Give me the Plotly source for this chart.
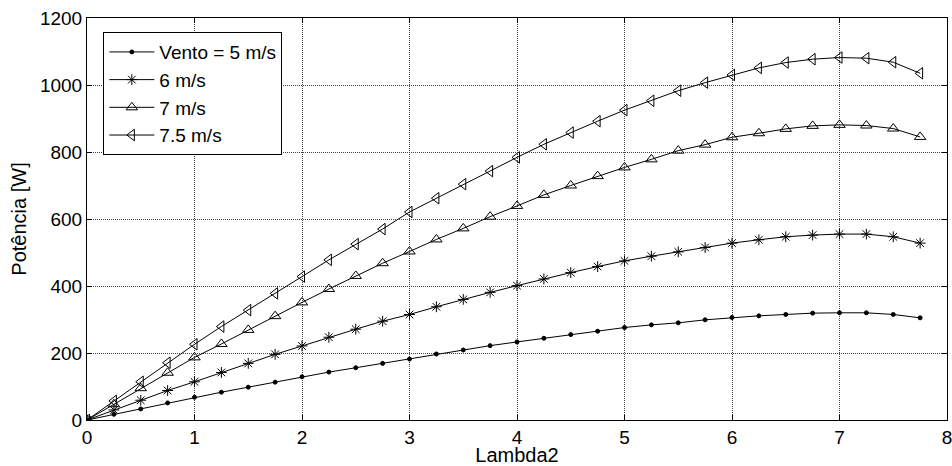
import plotly.graph_objects as go

lambda2 = [0, 0.25, 0.5, 0.75, 1, 1.25, 1.5, 1.75, 2, 2.25, 2.5, 2.75, 3, 3.25, 3.5, 3.75,
           4, 4.25, 4.5, 4.75, 5, 5.25, 5.5, 5.75, 6, 6.25, 6.5, 6.75, 7, 7.25, 7.5, 7.75]

p_5 = [0, 17, 33, 51, 68, 83, 98, 113, 129, 143, 156, 169, 182, 197, 209, 222,
       233, 244, 255, 265, 276, 284, 290, 299, 306, 311, 315, 319, 320, 320, 315, 305]
p_6 = [0, 30, 59, 88, 114, 142, 169, 196, 221, 247, 271, 295, 315, 338, 360, 381,
       401, 421, 440, 458, 475, 489, 502, 515, 528, 538, 547, 552, 555, 555, 547, 528]
p_7 = [0, 47, 95, 141, 187, 227, 269, 310, 351, 391, 430, 468, 503, 539, 572, 607,
       639, 672, 700, 728, 754, 778, 804, 822, 844, 856, 869, 878, 881, 879, 870, 845]
p_75 = [0, 57, 114, 171, 226, 279, 328, 378, 428, 478, 525, 570, 621, 662, 704, 743,
        784, 823, 858, 892, 925, 953, 983, 1007, 1030, 1051, 1067, 1077, 1082, 1080, 1068, 1035]

series = [
    ("Vento = 5 m/s", p_5, "circle", 4),
    ("6 m/s", p_6, "asterisk-open", 9),
    ("7 m/s", p_7, "triangle-up-open", 10),
    ("7.5 m/s", p_75, "triangle-left-open", 10),
]

x_ticks = [0, 1, 2, 3, 4, 5, 6, 7, 8]
y_ticks = [0, 200, 400, 600, 800, 1000, 1200]

FONT = "Liberation Sans, Arial, sans-serif"

fig = go.Figure()
for name, ys, sym, sz in series:
    fig.add_trace(go.Scatter(
        x=lambda2, y=ys, name=name, mode="lines+markers",
        line=dict(color="black", width=1),
        marker=dict(symbol=sym, size=sz, color="black",
                    line=dict(color="black", width=1)),
    ))

axis_common = dict(
    showline=True, linecolor="black", linewidth=1, mirror="ticks",
    ticks="inside", ticklen=5, tickcolor="black",
    showgrid=True, gridcolor="#444444", griddash="1px,1px", gridwidth=1,
    zeroline=False, ticklabeloverflow="allow", automargin=False,
    tickfont=dict(family=FONT, size=19, color="black"),
)

fig.update_xaxes(range=[0, 8], tickvals=x_ticks,
                 title=dict(text="Lambda2", standoff=6,
                            font=dict(family=FONT, size=20, color="black")),
                 **axis_common)
fig.update_yaxes(range=[0, 1200], tickvals=y_ticks,
                 title=dict(text="Potência [W]", standoff=7,
                            font=dict(family=FONT, size=20, color="black")),
                 **axis_common)

fig.update_layout(
    width=952, height=466,
    margin=dict(l=87, r=5, t=18, b=46),
    paper_bgcolor="white", plot_bgcolor="white",
    legend=dict(x=0.019, y=0.965, xanchor="left", yanchor="top",
                bgcolor="white", bordercolor="black", borderwidth=1,
                font=dict(family=FONT, size=19, color="black"),
                tracegroupgap=0, itemwidth=45),
    showlegend=True,
)

fig.write_html("out.html", config={"displayModeBar": False},
               post_script="document.body.style.margin='0';document.body.style.overflow='hidden';")
